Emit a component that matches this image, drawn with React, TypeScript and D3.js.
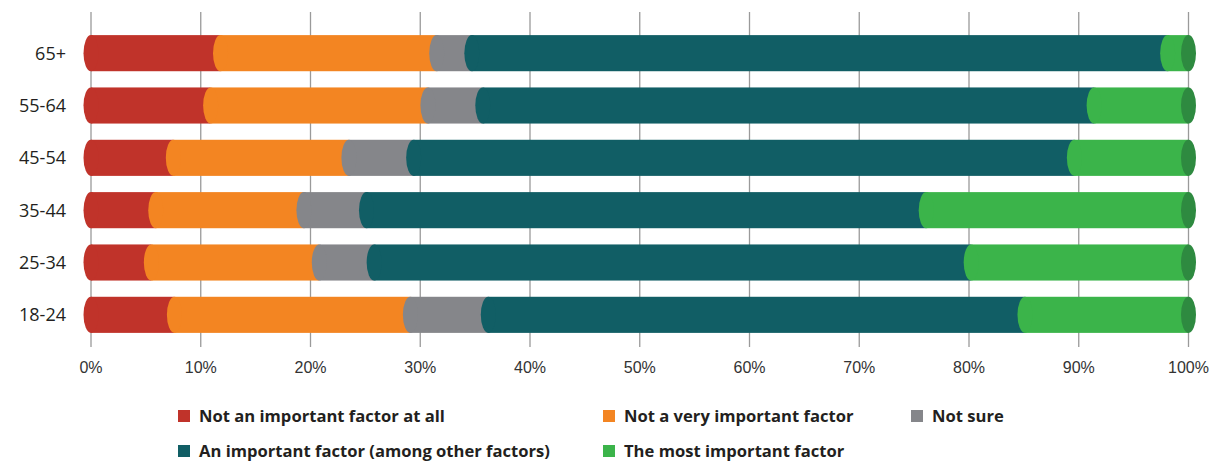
import React from "react";
import * as d3 from "d3";

const categories = ["65+", "55-64", "45-54", "35-44", "25-34", "18-24"];
const seriesNames = [
  "Not an important factor at all",
  "Not a very important factor",
  "Not sure",
  "An important factor (among other factors)",
  "The most important factor",
];
const notImportantAtAll = [11.8, 10.9, 7.5, 5.9, 5.5, 7.6];
const notVeryImportant = [19.7, 19.8, 16.0, 13.5, 15.3, 21.5];
const notSure = [3.2, 5.0, 5.9, 5.7, 5.0, 7.1];
const importantAmongOthers = [63.4, 55.7, 60.2, 51.0, 54.4, 48.9];
const mostImportant = [1.9, 8.6, 10.4, 23.9, 19.8, 14.9];
const ticks = [0, 10, 20, 30, 40, 50, 60, 70, 80, 90, 100];

const colors = ["#C0332A", "#F38522", "#85868A", "#115E65", "#3BB44A"];
const capColor = "#2E8A40";

export default function App() {
  const W = 1217, H = 464;
  const x = d3.scaleLinear().domain([0, 100]).range([91, 1188.5]);
  const y = d3.scaleBand().domain(categories).range([27, 341]).paddingInner(0.31).paddingOuter(0.155);
  const bh = y.bandwidth();
  const rx = 7.5;
  const series = [notImportantAtAll, notVeryImportant, notSure, importantAmongOthers, mostImportant];
  const rows = categories.map((c, i) => {
    const vals = series.map((s) => s[i]);
    let acc = 0;
    const segs = vals.map((v, k) => {
      const x0 = acc;
      acc += v;
      return { k, x0, x1: acc };
    });
    return { c, segs };
  });
  const legend = [
    { name: seriesNames[0], color: colors[0], x: 178, y: 416 },
    { name: seriesNames[1], color: colors[1], x: 603, y: 416 },
    { name: seriesNames[2], color: colors[2], x: 911, y: 416 },
    { name: seriesNames[3], color: colors[3], x: 178, y: 451 },
    { name: seriesNames[4], color: colors[4], x: 603, y: 451 },
  ];
  return (
    <svg width={W} height={H} style={{ position: "absolute", left: 0, top: 0 }}>
      <rect width={W} height={H} fill="#fff" />
      {ticks.map((t) => (
        <g key={t}>
          <line x1={x(t)} x2={x(t)} y1={12} y2={347} stroke="#9a9a9a" strokeWidth={1.3} />
          <text x={x(t)} y={373} textAnchor="middle" fontFamily="Liberation Sans, Arial, sans-serif" fontSize={16} fill="#333">
            {t}%
          </text>
        </g>
      ))}
      {rows.map((r) => {
        const yy = y(r.c)!;
        const cy = yy + bh / 2;
        return (
          <g key={r.c}>
            <text x={66} y={cy + 6.5} textAnchor="end" fontFamily="Open Sans, sans-serif" fontSize={18} fill="#231F20">
              {r.c}
            </text>
            {r.segs.map((s) => (
              <g key={s.k}>
                <rect x={x(s.x0)} y={yy} width={x(s.x1) - x(s.x0)} height={bh} fill={colors[s.k]} />
                <ellipse cx={x(s.x0)} cy={cy} rx={rx} ry={bh / 2} fill={colors[s.k]} />
              </g>
            ))}
            <ellipse cx={x(100)} cy={cy} rx={rx} ry={bh / 2} fill={capColor} />
          </g>
        );
      })}
      {legend.map((l) => (
        <g key={l.name}>
          <rect x={l.x} y={l.y - 6} width={12} height={12} fill={l.color} />
          <text x={l.x + 21} y={l.y + 6} fontFamily="Open Sans, sans-serif" fontWeight={700} fontSize={16.6} fill="#231F20">
            {l.name}
          </text>
        </g>
      ))}
    </svg>
  );
}
